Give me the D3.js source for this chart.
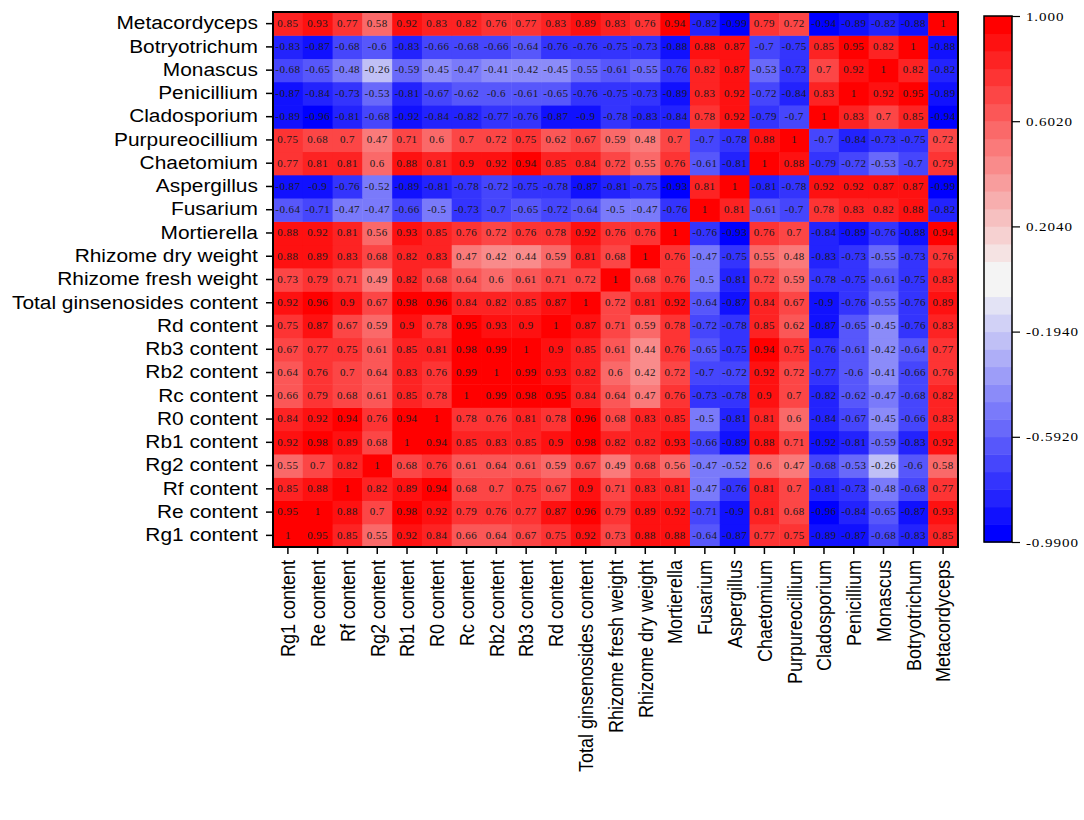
<!DOCTYPE html>
<html>
<head>
<meta charset="utf-8">
<script src="https://cdn.jsdelivr.net/npm/d3@7"></script>
<style>
	body { margin: 0; background: white; }
	svg text { fill: black; }
</style>
</head>
<body>
<svg id="chart" width="1084" height="820"></svg>
<script>
// variables, in the order of the x axis (y axis is the reverse)
let variables = ['Rg1 content', 'Re content', 'Rf content', 'Rg2 content', 'Rb1 content', 'R0 content', 'Rc content',
	'Rb2 content', 'Rb3 content', 'Rd content', 'Total ginsenosides content', 'Rhizome fresh weight', 'Rhizome dry weight',
	'Mortierella', 'Fusarium', 'Aspergillus', 'Chaetomium', 'Purpureocillium', 'Cladosporium', 'Penicillium',
	'Monascus', 'Botryotrichum', 'Metacordyceps'];

// correlation matrix, one row per variable (same order)
let corr = [
	[1, 0.95, 0.85, 0.55, 0.92, 0.84, 0.66, 0.64, 0.67, 0.75, 0.92, 0.73, 0.88, 0.88, -0.64, -0.87, 0.77, 0.75, -0.89, -0.87, -0.68, -0.83, 0.85],
	[0.95, 1, 0.88, 0.7, 0.98, 0.92, 0.79, 0.76, 0.77, 0.87, 0.96, 0.79, 0.89, 0.92, -0.71, -0.9, 0.81, 0.68, -0.96, -0.84, -0.65, -0.87, 0.93],
	[0.85, 0.88, 1, 0.82, 0.89, 0.94, 0.68, 0.7, 0.75, 0.67, 0.9, 0.71, 0.83, 0.81, -0.47, -0.76, 0.81, 0.7, -0.81, -0.73, -0.48, -0.68, 0.77],
	[0.55, 0.7, 0.82, 1, 0.68, 0.76, 0.61, 0.64, 0.61, 0.59, 0.67, 0.49, 0.68, 0.56, -0.47, -0.52, 0.6, 0.47, -0.68, -0.53, -0.26, -0.6, 0.58],
	[0.92, 0.98, 0.89, 0.68, 1, 0.94, 0.85, 0.83, 0.85, 0.9, 0.98, 0.82, 0.82, 0.93, -0.66, -0.89, 0.88, 0.71, -0.92, -0.81, -0.59, -0.83, 0.92],
	[0.84, 0.92, 0.94, 0.76, 0.94, 1, 0.78, 0.76, 0.81, 0.78, 0.96, 0.68, 0.83, 0.85, -0.5, -0.81, 0.81, 0.6, -0.84, -0.67, -0.45, -0.66, 0.83],
	[0.66, 0.79, 0.68, 0.61, 0.85, 0.78, 1, 0.99, 0.98, 0.95, 0.84, 0.64, 0.47, 0.76, -0.73, -0.78, 0.9, 0.7, -0.82, -0.62, -0.47, -0.68, 0.82],
	[0.64, 0.76, 0.7, 0.64, 0.83, 0.76, 0.99, 1, 0.99, 0.93, 0.82, 0.6, 0.42, 0.72, -0.7, -0.72, 0.92, 0.72, -0.77, -0.6, -0.41, -0.66, 0.76],
	[0.67, 0.77, 0.75, 0.61, 0.85, 0.81, 0.98, 0.99, 1, 0.9, 0.85, 0.61, 0.44, 0.76, -0.65, -0.75, 0.94, 0.75, -0.76, -0.61, -0.42, -0.64, 0.77],
	[0.75, 0.87, 0.67, 0.59, 0.9, 0.78, 0.95, 0.93, 0.9, 1, 0.87, 0.71, 0.59, 0.78, -0.72, -0.78, 0.85, 0.62, -0.87, -0.65, -0.45, -0.76, 0.83],
	[0.92, 0.96, 0.9, 0.67, 0.98, 0.96, 0.84, 0.82, 0.85, 0.87, 1, 0.72, 0.81, 0.92, -0.64, -0.87, 0.84, 0.67, -0.9, -0.76, -0.55, -0.76, 0.89],
	[0.73, 0.79, 0.71, 0.49, 0.82, 0.68, 0.64, 0.6, 0.61, 0.71, 0.72, 1, 0.68, 0.76, -0.5, -0.81, 0.72, 0.59, -0.78, -0.75, -0.61, -0.75, 0.83],
	[0.88, 0.89, 0.83, 0.68, 0.82, 0.83, 0.47, 0.42, 0.44, 0.59, 0.81, 0.68, 1, 0.76, -0.47, -0.75, 0.55, 0.48, -0.83, -0.73, -0.55, -0.73, 0.76],
	[0.88, 0.92, 0.81, 0.56, 0.93, 0.85, 0.76, 0.72, 0.76, 0.78, 0.92, 0.76, 0.76, 1, -0.76, -0.93, 0.76, 0.7, -0.84, -0.89, -0.76, -0.88, 0.94],
	[-0.64, -0.71, -0.47, -0.47, -0.66, -0.5, -0.73, -0.7, -0.65, -0.72, -0.64, -0.5, -0.47, -0.76, 1, 0.81, -0.61, -0.7, 0.78, 0.83, 0.82, 0.88, -0.82],
	[-0.87, -0.9, -0.76, -0.52, -0.89, -0.81, -0.78, -0.72, -0.75, -0.78, -0.87, -0.81, -0.75, -0.93, 0.81, 1, -0.81, -0.78, 0.92, 0.92, 0.87, 0.87, -0.99],
	[0.77, 0.81, 0.81, 0.6, 0.88, 0.81, 0.9, 0.92, 0.94, 0.85, 0.84, 0.72, 0.55, 0.76, -0.61, -0.81, 1, 0.88, -0.79, -0.72, -0.53, -0.7, 0.79],
	[0.75, 0.68, 0.7, 0.47, 0.71, 0.6, 0.7, 0.72, 0.75, 0.62, 0.67, 0.59, 0.48, 0.7, -0.7, -0.78, 0.88, 1, -0.7, -0.84, -0.73, -0.75, 0.72],
	[-0.89, -0.96, -0.81, -0.68, -0.92, -0.84, -0.82, -0.77, -0.76, -0.87, -0.9, -0.78, -0.83, -0.84, 0.78, 0.92, -0.79, -0.7, 1, 0.83, 0.7, 0.85, -0.94],
	[-0.87, -0.84, -0.73, -0.53, -0.81, -0.67, -0.62, -0.6, -0.61, -0.65, -0.76, -0.75, -0.73, -0.89, 0.83, 0.92, -0.72, -0.84, 0.83, 1, 0.92, 0.95, -0.89],
	[-0.68, -0.65, -0.48, -0.26, -0.59, -0.45, -0.47, -0.41, -0.42, -0.45, -0.55, -0.61, -0.55, -0.76, 0.82, 0.87, -0.53, -0.73, 0.7, 0.92, 1, 0.82, -0.82],
	[-0.83, -0.87, -0.68, -0.6, -0.83, -0.66, -0.68, -0.66, -0.64, -0.76, -0.76, -0.75, -0.73, -0.88, 0.88, 0.87, -0.7, -0.75, 0.85, 0.95, 0.82, 1, -0.88],
	[0.85, 0.93, 0.77, 0.58, 0.92, 0.83, 0.82, 0.76, 0.77, 0.83, 0.89, 0.83, 0.76, 0.94, -0.82, -0.99, 0.79, 0.72, -0.94, -0.89, -0.82, -0.88, 1]
];

// colour bar
let colorDomain = [-0.99, 1];
let colorTicks = [1, 0.602, 0.204, -0.194, -0.592, -0.99];
let colorTickLabels = ['1.000', '0.6020', '0.2040', '-0.1940', '-0.5920', '-0.9900'];
let nLevels = 30;

let svg = d3.select('#chart');
let mLeft = 273, mTop = 12, mRight = 958, mBottom = 547;
let stretch = 1.16;	// the original figure is a little wider than tall, text included

let x = d3.scaleBand().domain(variables).range([mLeft, mRight]);
let y = d3.scaleBand().domain(variables.slice().reverse()).range([mTop, mBottom]);

// 30 discrete levels: blue -> white (15), white -> red (15)
let half = nLevels / 2;
let levels = d3.range(nLevels).map(i => i < half
	? d3.interpolateRgb('#0000ff', '#f4f4f4')(i / (half - 1))
	: d3.interpolateRgb('#f4f4f4', '#ff0000')((i - half) / (half - 1)));
let color = d3.scaleQuantize().domain(colorDomain).range(levels);

let cells = [];
corr.forEach((row, i) => row.forEach((v, j) => cells.push({row: variables[i], col: variables[j], v: v})));

let g = svg.append('g');
g.selectAll('rect').data(cells).join('rect')
	.attr('x', d => x(d.col))
	.attr('y', d => y(d.row))
	.attr('width', x.bandwidth() + 0.5)
	.attr('height', y.bandwidth() + 0.5)
	.style('fill', d => color(d.v));

g.selectAll('text').data(cells).join('text')
	.attr('transform', d => `translate(${x(d.col) + x.bandwidth() / 2},${y(d.row) + y.bandwidth() / 2}) scale(${stretch},1)`)
	.attr('dy', '0.35em')
	.attr('text-anchor', 'middle')
	.style('font-family', '"Liberation Serif", "DejaVu Serif", serif')
	.style('font-size', '9.5px')
	.style('letter-spacing', '0.4px')
	.style('fill', '#1a1a1a')
	.text(d => String(d.v));

// frame
svg.append('rect').attr('x', mLeft).attr('y', mTop).attr('width', mRight - mLeft).attr('height', mBottom - mTop)
	.style('fill', 'none').style('stroke', 'black').style('stroke-width', 2);

// axes
let yAxis = svg.append('g').attr('transform', `translate(${mLeft},0)`)
	.call(d3.axisLeft(y).tickSize(7).tickPadding(6));
let xAxis = svg.append('g').attr('transform', `translate(0,${mBottom})`)
	.call(d3.axisBottom(x).tickSize(7).tickPadding(6));
[xAxis, yAxis].forEach(a => {
	a.select('.domain').remove();
	a.selectAll('line').style('stroke', 'black').style('stroke-width', 1.5);
	a.selectAll('text').style('font-family', '"Liberation Sans", Arial, sans-serif').style('font-size', '18px');
});
yAxis.selectAll('text')
	.attr('x', -13)
	.attr('transform', `scale(${stretch},1)`);
xAxis.selectAll('text')
	.attr('transform', `scale(${stretch},1) rotate(-90)`)
	.attr('text-anchor', 'end')
	.attr('x', -13)
	.attr('y', 0)
	.attr('dy', '0.35em');

// colour bar
let cbX = 984, cbW = 28;
let cy = d3.scaleLinear().domain(colorDomain).range([542, 16]);
let step = (colorDomain[1] - colorDomain[0]) / nLevels;
svg.append('g').selectAll('rect').data(levels).join('rect')
	.attr('x', cbX)
	.attr('y', (d, i) => cy(colorDomain[0] + (i + 1) * step))
	.attr('width', cbW)
	.attr('height', (d, i) => cy(colorDomain[0] + i * step) - cy(colorDomain[0] + (i + 1) * step) + 0.5)
	.style('fill', d => d);
svg.append('rect').attr('x', cbX).attr('y', cy(colorDomain[1])).attr('width', cbW).attr('height', cy(colorDomain[0]) - cy(colorDomain[1]))
	.style('fill', 'none').style('stroke', 'black').style('stroke-width', 1.5);

let cAxis = svg.append('g').attr('transform', `translate(${cbX + cbW},0)`)
	.call(d3.axisRight(cy).tickValues(colorTicks).tickFormat((d, i) => colorTickLabels[i]).tickSize(8).tickPadding(5));
cAxis.select('.domain').remove();
cAxis.selectAll('line').style('stroke', 'black').style('stroke-width', 1.2);
cAxis.selectAll('text')
	.attr('transform', `scale(${stretch},1)`)
	.attr('x', 12)
	.style('font-family', '"Liberation Serif", "DejaVu Serif", serif')
	.style('font-size', '13px')
	.style('letter-spacing', '0.8px');
</script>
</body>
</html>
